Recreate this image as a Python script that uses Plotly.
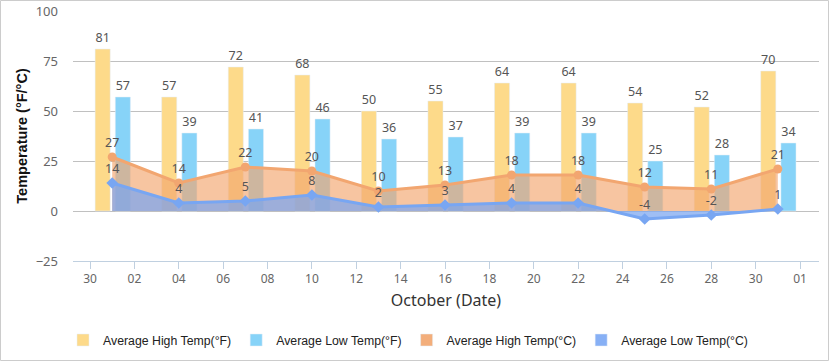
import plotly.graph_objects as go

dates = ["2019-10-01", "2019-10-04", "2019-10-07", "2019-10-10", "2019-10-13", "2019-10-16",
         "2019-10-19", "2019-10-22", "2019-10-25", "2019-10-28", "2019-10-31"]
high_f = [81, 57, 72, 68, 50, 55, 64, 64, 54, 52, 70]
low_f = [57, 39, 41, 46, 36, 37, 39, 39, 25, 28, 34]
high_c = [27, 14, 22, 20, 10, 13, 18, 18, 12, 11, 21]
low_c = [14, 4, 5, 8, 2, 3, 4, 4, -4, -2, 1]

DAY = 86400000
FONT = "Noto Sans"
LBL = dict(family=FONT, size=12.5, color="#555")

fig = go.Figure()
fig.add_trace(go.Bar(x=dates, y=high_f, name="Average High Temp(°F)", marker_color="#FDDA8A",
                     offset=-0.77 * DAY, width=0.68 * DAY, text=high_f, textposition="outside",
                     textfont=LBL, cliponaxis=False, legendgroup="hf"))
fig.add_trace(go.Bar(x=dates, y=low_f, name="Average Low Temp(°F)", marker_color="#87D3F8",
                     offset=0.14 * DAY, width=0.68 * DAY, text=low_f, textposition="outside",
                     textfont=LBL, cliponaxis=False, legendgroup="lf"))
# legend swatches for the area series
fig.add_trace(go.Bar(x=dates, y=[None] * len(dates), name="Average High Temp(°C)",
                     marker_color="#F3AE7B", legendgroup="hc"))
fig.add_trace(go.Bar(x=dates, y=[None] * len(dates), name="Average Low Temp(°C)",
                     marker_color="#87B0F5", legendgroup="lc"))
fig.add_trace(go.Scatter(x=dates, y=high_c, mode="lines+markers+text", fill="tozeroy",
                         fillcolor="rgba(242,166,110,0.65)",
                         line=dict(color="#F2A670", width=3),
                         marker=dict(symbol="circle", size=9, color="#F2A670"),
                         text=high_c, textposition="top center", textfont=LBL,
                         showlegend=False, legendgroup="hc", cliponaxis=False))
fig.add_trace(go.Scatter(x=dates, y=low_c, mode="lines+markers+text", fill="tozeroy",
                         fillcolor="rgba(122,165,240,0.72)",
                         line=dict(color="#78A6F2", width=3),
                         marker=dict(symbol="diamond", size=9, color="#78A6F2"),
                         text=low_c, textposition="top center", textfont=LBL,
                         showlegend=False, legendgroup="lc", cliponaxis=False))

L, R, T, B = 73, 11, 11, 101
W, H = 830, 362
pw, ph = W - L - R, H - T - B

fig.update_layout(
    width=W, height=H,
    margin=dict(l=L, r=R, t=T, b=B, autoexpand=False),
    paper_bgcolor="white", plot_bgcolor="white",
    barmode="overlay",
    font=dict(family=FONT, color="#555"),
    showlegend=True,
    legend=dict(orientation="h", x=(408 - L) / pw, xanchor="center",
                y=-(340 - (T + ph)) / ph, yanchor="middle",
                font=dict(family="Liberation Sans", size=12.3, color="#222"),
                itemclick=False, itemdoubleclick=False),
    xaxis=dict(type="date", range=["2019-09-29 05:36", "2019-11-01 20:33"],
               tick0="2019-09-30", dtick=2 * DAY, tickformat="%d",
               showgrid=False, showline=True, linecolor="#C0D0E0", linewidth=1,
               ticks="outside", ticklen=7, tickcolor="#C0D0E0",
               tickfont=dict(family=FONT, size=12, color="#666"),
               title=dict(text="October (Date)", standoff=8,
                          font=dict(family=FONT, size=16, color="#333")),
               zeroline=False, fixedrange=True),
    yaxis=dict(range=[-25, 100], tickvals=[-25, 0, 25, 50, 75, 100],
               showgrid=True, gridcolor="#C0C0C0", gridwidth=1, zeroline=False,
               showline=False, ticks="", ticklabelstandoff=14,
               tickfont=dict(family=FONT, size=13, color="#666"),
               title=dict(text="<b>Temperature (°F/°C)</b>", standoff=4,
                          font=dict(family="Liberation Sans", size=14.5, color="#111")),
               fixedrange=True),
    shapes=[dict(type="rect", xref="paper", yref="paper",
                 x0=-(L - 0.5) / pw, x1=(W - L - 1.5) / pw,
                 y0=-(H - T - ph - 1.5) / ph, y1=1 + (T - 0.5) / ph,
                 line=dict(color="#CCCCCC", width=1), fillcolor="rgba(0,0,0,0)", layer="above")],
)

fig.write_html("out.html", config={"displayModeBar": False},
               post_script="document.body.style.margin='0';document.body.style.overflow='hidden';")
